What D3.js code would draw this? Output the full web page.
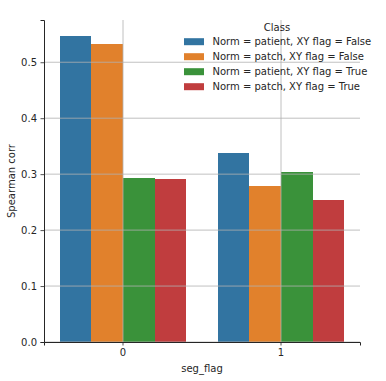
<!DOCTYPE html>
<html>
<head>
<meta charset="utf-8">
<script src="https://cdn.jsdelivr.net/npm/d3@7"></script>
<style>
  body { margin: 0; background: #fff; }
  text { font-family: "DejaVu Sans", sans-serif; }
</style>
</head>
<body>
<div id="chart"></div>
<script>
var categories = ["0", "1"];
var classes = [
  "Norm = patient, XY flag = False",
  "Norm = patch, XY flag = False",
  "Norm = patient, XY flag = True",
  "Norm = patch, XY flag = True"
];
var colors = ["#3274a1", "#e1812c", "#3a923a", "#c03d3e"];
// values per class, one entry per seg_flag category
var values = [
  [0.547, 0.338],
  [0.533, 0.279],
  [0.293, 0.304],
  [0.291, 0.254]
];
var yTicks = [0.0, 0.1, 0.2, 0.3, 0.4, 0.5];

var width = 386, height = 381;
var margin = { top: 20, right: 26, bottom: 39, left: 44 };

var svg = d3.select("#chart")
  .append("svg")
  .attr("width", width)
  .attr("height", height);

var x = d3.scaleBand()
  .domain(categories)
  .range([margin.left, width - margin.right]);

var xInner = d3.scaleBand()
  .domain(d3.range(classes.length))
  .range([0, x.bandwidth() * 0.8]);

var y = d3.scaleLinear()
  .domain([0, 0.5755])
  .range([height - margin.bottom, margin.top]);

// bars
var bars = [];
values.forEach(function (row, i) {
  row.forEach(function (v, j) {
    bars.push({ cls: i, cat: categories[j], v: v });
  });
});

svg.append("g")
  .attr("shape-rendering", "crispEdges")
  .selectAll("rect")
  .data(bars)
  .enter()
  .append("rect")
  .attr("x", function (d) { return x(d.cat) + x.bandwidth() * 0.1 + xInner(d.cls); })
  .attr("width", xInner.bandwidth())
  .attr("y", function (d) { return y(d.v); })
  .attr("height", function (d) { return y(0) - y(d.v); })
  .attr("fill", function (d) { return colors[d.cls]; });

// grid on top of bars
var grid = svg.append("g")
  .attr("stroke", "#b0b0b0")
  .attr("stroke-width", 0.8);

grid.selectAll("line.h")
  .data(yTicks)
  .enter()
  .append("line")
  .attr("class", "h")
  .attr("x1", margin.left)
  .attr("x2", width - margin.right)
  .attr("y1", function (d) { return y(d); })
  .attr("y2", function (d) { return y(d); });

grid.selectAll("line.v")
  .data(categories)
  .enter()
  .append("line")
  .attr("class", "v")
  .attr("x1", function (d) { return x(d) + x.bandwidth() / 2; })
  .attr("x2", function (d) { return x(d) + x.bandwidth() / 2; })
  .attr("y1", margin.top)
  .attr("y2", height - margin.bottom);

// axes
var yAxis = svg.append("g")
  .attr("transform", "translate(" + margin.left + ",0)")
  .call(d3.axisLeft(y).tickValues(yTicks).tickFormat(d3.format(".1f")).tickSizeOuter(0).tickSize(3.5).tickPadding(3.5));

var xAxis = svg.append("g")
  .attr("transform", "translate(0," + (height - margin.bottom) + ")")
  .call(d3.axisBottom(x).tickSizeOuter(0).tickSize(3.5).tickPadding(3.5));

[xAxis, yAxis].forEach(function (a) {
  a.select(".domain").attr("stroke", "#262626").attr("stroke-width", 1);
  a.selectAll(".tick line").attr("stroke", "#262626").attr("stroke-width", 0.8);
  a.selectAll(".tick text")
    .attr("fill", "#262626")
    .style("font-size", "10px")
    .style("font-family", "DejaVu Sans, sans-serif");
});

// axis labels
svg.append("text")
  .attr("x", (margin.left + width - margin.right) / 2)
  .attr("y", 372)
  .attr("text-anchor", "middle")
  .attr("font-size", "10px")
  .attr("fill", "#262626")
  .text("seg_flag");

svg.append("text")
  .attr("transform", "translate(15," + ((margin.top + height - margin.bottom) / 2) + ") rotate(-90)")
  .attr("text-anchor", "middle")
  .attr("font-size", "10px")
  .attr("fill", "#262626")
  .text("Spearman corr");

// legend
var legend = svg.append("g")
  .attr("transform", "translate(184,0)");

legend.append("text")
  .attr("x", 93)
  .attr("y", 31)
  .attr("text-anchor", "middle")
  .attr("font-size", "10px")
  .attr("fill", "#262626")
  .text("Class");

var item = legend.selectAll("g.item")
  .data(classes)
  .enter()
  .append("g")
  .attr("class", "item")
  .attr("transform", function (d, i) { return "translate(0," + (41.7 + i * 15) + ")"; });

item.append("rect")
  .attr("x", 0)
  .attr("y", -3.5)
  .attr("width", 20)
  .attr("height", 7)
  .attr("fill", function (d, i) { return colors[i]; });

item.append("text")
  .attr("x", 28.5)
  .attr("y", 3.6)
  .attr("font-size", "10px")
  .attr("fill", "#262626")
  .text(function (d) { return d; });
</script>
</body>
</html>
